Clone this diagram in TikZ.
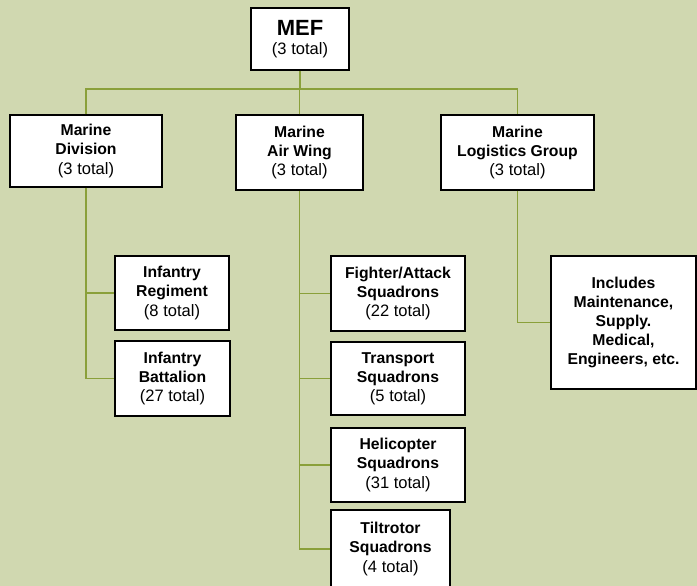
\documentclass[tikz,border=0pt]{standalone}
\usepackage{fontspec}
\setmainfont{Liberation Sans}
\definecolor{bgc}{RGB}{208,216,176}
\definecolor{linec}{RGB}{138,160,58}
\newcommand{\bl}[1]{{\fontsize{11.8}{14.4}\selectfont\bfseries #1}}
\newcommand{\rg}[1]{{\fontsize{12.4}{14.4}\selectfont #1}}
\begin{document}
\begin{tikzpicture}[x=0.75pt,y=-0.75pt,
  box/.style={draw=black,line width=0.9pt,fill=white,align=center,inner sep=0pt,
    font=\fontsize{11.8}{14.4}\selectfont},
  conn/.style={draw=linec,line width=1pt}]
\fill[bgc] (0,0) rectangle (697,586);
\useasboundingbox (0,0) rectangle (697,586);
\clip (0,0) rectangle (697,586);
\node[box,minimum width=98*0.75pt,minimum height=62*0.75pt] (mef) at (300,39)
  {{\fontsize{16.5}{17}\selectfont\bfseries MEF}\\\rg{(3 total)}};
\node[box,minimum width=152*0.75pt,minimum height=72*0.75pt] (div) at (86,151)
  {\bl{Marine}\\\bl{Division}\\\rg{(3 total)}};
\node[box,minimum width=127*0.75pt,minimum height=75*0.75pt] (aw) at (299.5,152.5)
  {\bl{Marine}\\\bl{Air Wing}\\\rg{(3 total)}};
\node[box,minimum width=153*0.75pt,minimum height=75*0.75pt] (log) at (517.5,152.5)
  {\bl{Marine}\\\bl{Logistics Group}\\\rg{(3 total)}};
\node[box,minimum width=114*0.75pt,minimum height=74*0.75pt] (reg) at (172,293)
  {\bl{Infantry}\\\bl{Regiment}\\\rg{(8 total)}};
\node[box,minimum width=115*0.75pt,minimum height=75*0.75pt] (bat) at (172.5,378.5)
  {\bl{Infantry}\\\bl{Battalion}\\\rg{(27 total)}};
\node[box,minimum width=134*0.75pt,minimum height=75*0.75pt] (fa) at (398,293.5)
  {\bl{Fighter/Attack}\\\bl{Squadrons}\\\rg{(22 total)}};
\node[box,minimum width=134*0.75pt,minimum height=73*0.75pt] (tr) at (398,378.5)
  {\bl{Transport}\\\bl{Squadrons}\\\rg{(5 total)}};
\node[box,minimum width=134*0.75pt,minimum height=74*0.75pt] (he) at (398,465)
  {\bl{Helicopter}\\\bl{Squadrons}\\\rg{(31 total)}};
\node[box,minimum width=119*0.75pt,minimum height=78*0.75pt] (ti) at (390.5,549)
  {\bl{Tiltrotor}\\\bl{Squadrons}\\\rg{(4 total)}};
\node[box,minimum width=145*0.75pt,minimum height=133*0.75pt] (inc) at (623.5,322.5)
  {\bl{Includes}\\\bl{Maintenance,}\\\bl{Supply.}\\\bl{Medical,}\\\bl{Engineers, etc.}};
\coordinate (bus) at (300,89);
\draw[conn] (mef.south) -- (bus);
\draw[conn] (div.north) -- (div.north|-bus) -- (log.north|-bus) -- (log.north);
\draw[conn] (aw.north) -- (aw.north|-bus);
\draw[conn] (div.south) -- (div.south|-bat.west) -- (bat.west);
\draw[conn] (div.south|-reg.west) -- (reg.west);
\draw[conn] (aw.south) -- (aw.south|-ti.west) -- (ti.west);
\draw[conn] (aw.south|-fa.west) -- (fa.west);
\draw[conn] (aw.south|-tr.west) -- (tr.west);
\draw[conn] (aw.south|-he.west) -- (he.west);
\draw[conn] (log.south) |- (inc.west);
\end{tikzpicture}
\end{document}
